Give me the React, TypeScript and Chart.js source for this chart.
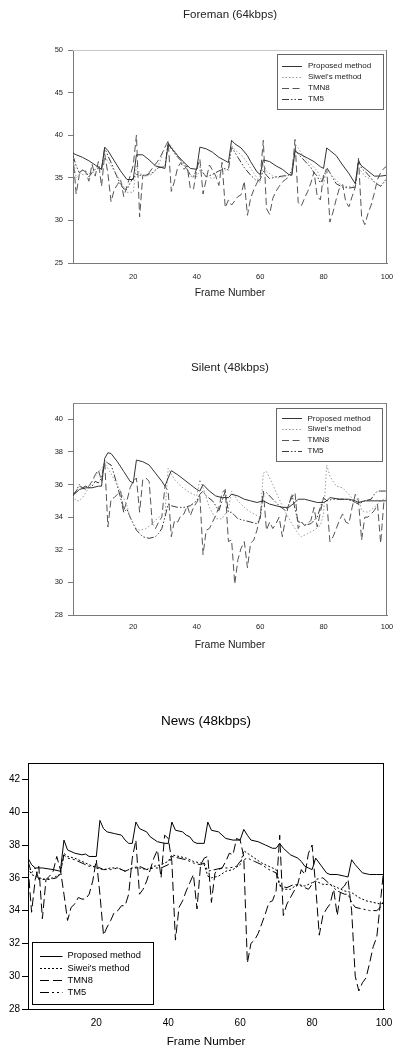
import React, { useEffect, useRef } from "react";
import { Chart, registerables } from "chart.js";

Chart.register(...registerables);

type Pt = [number, number];

const FONT = '"Liberation Sans", Arial, Helvetica, sans-serif';

const seriesLabels = ["Proposed method", "Siwei's method", "TMN8", "TM5"];
const xAxisTitle = "Frame Number";
const frameTicks = [20, 40, 60, 80, 100];
const frameMin = 1;
const frameMax = 100;

// ---------- Foreman (64kbps) ----------
const foremanTitle = "Foreman (64kbps)";
const foremanYTicks = [25, 30, 35, 40, 45, 50];
const foremanYMin = 25;
const foremanYMax = 50;

const foremanProposed: Pt[] = [
  [1, 37.9], [2, 37.7], [4, 37.4], [6, 37.0], [8, 36.5], [10, 36.0], [11, 38.6], [12, 38.2], [14, 37.0], [16, 35.8],
  [18, 34.8], [20, 34.8], [21, 37.7], [23, 37.7], [25, 37.1], [27, 36.4], [29, 36.2], [30, 36.1], [31, 39.0], [32, 38.5],
  [34, 37.6], [36, 36.8], [38, 36.1], [40, 36.0], [41, 38.6], [43, 38.4], [45, 38.0], [47, 37.4], [49, 37.0], [50, 36.8],
  [51, 39.4], [52, 39.0], [54, 38.5], [56, 37.6], [57, 36.9], [59, 35.7], [60, 35.4], [61, 37.1], [63, 36.9], [65, 36.4],
  [67, 36.0], [69, 35.4], [70, 35.3], [71, 38.1], [72, 37.9], [75, 37.3], [77, 36.9], [79, 36.3], [80, 36.1], [81, 38.5],
  [82, 38.2], [84, 37.6], [86, 36.5], [88, 35.5], [90, 34.3], [91, 36.9], [92, 36.4], [94, 35.8], [96, 35.2], [98, 35.2],
  [100, 35.3],
];
const foremanSiwei: Pt[] = [
  [1, 37.4], [2, 35.0], [3, 35.4], [5, 35.4], [7, 35.6], [9, 35.8], [10, 35.8], [11, 37.5], [12, 37.0], [14, 35.8],
  [16, 34.6], [18, 33.3], [20, 33.3], [21, 36.4], [22, 35.5], [24, 35.2], [26, 35.4], [28, 36.5], [30, 38.6], [31, 39.2],
  [32, 38.7], [34, 37.6], [36, 36.4], [38, 35.4], [40, 35.1], [41, 35.9], [43, 35.2], [45, 34.9], [47, 35.3], [49, 35.9],
  [50, 36.0], [51, 38.8], [52, 38.3], [54, 37.7], [56, 36.8], [57, 36.1], [59, 35.0], [60, 34.4], [61, 36.6], [62, 35.8],
  [64, 35.2], [66, 35.0], [68, 35.2], [70, 35.5], [71, 39.0], [72, 38.5], [74, 37.3], [76, 36.6], [78, 35.8], [80, 34.2],
  [81, 36.0], [83, 35.1], [85, 34.3], [87, 34.0], [89, 34.0], [90, 34.1], [91, 36.2], [93, 35.2], [95, 34.8], [97, 34.2],
  [98, 34.1], [100, 35.0],
];
const foremanTMN8: Pt[] = [
  [1, 37.6], [2, 33.1], [3, 35.4], [4, 35.9], [5, 35.7], [6, 34.6], [7, 36.6], [8, 35.2], [9, 36.9], [10, 34.0],
  [11, 37.8], [12, 35.5], [13, 32.2], [14, 33.6], [15, 34.2], [16, 34.8], [17, 32.8], [18, 34.0], [19, 35.2], [20, 36.5],
  [21, 40.0], [22, 30.4], [23, 35.3], [24, 35.2], [25, 35.6], [26, 36.1], [27, 36.6], [28, 37.1], [29, 37.8], [30, 38.6],
  [31, 39.3], [32, 33.4], [33, 34.6], [34, 36.2], [35, 36.8], [36, 36.0], [37, 36.4], [38, 33.7], [39, 33.7], [40, 36.0],
  [41, 37.2], [42, 33.1], [43, 34.8], [44, 36.5], [45, 35.9], [46, 35.2], [47, 34.1], [48, 36.8], [49, 31.5], [50, 32.4],
  [51, 31.8], [52, 32.3], [53, 32.8], [54, 33.0], [55, 34.6], [56, 30.6], [57, 32.6], [58, 33.6], [59, 34.4], [60, 35.0],
  [61, 39.4], [62, 31.4], [63, 30.7], [64, 32.6], [65, 33.4], [66, 34.0], [67, 34.5], [68, 34.8], [69, 35.1], [70, 35.4],
  [71, 39.5], [72, 32.1], [73, 31.7], [74, 32.6], [75, 33.4], [76, 34.4], [77, 35.7], [78, 32.8], [79, 32.4], [80, 35.4],
  [81, 36.0], [82, 29.8], [83, 31.0], [84, 32.5], [85, 33.8], [86, 34.2], [87, 32.2], [88, 31.6], [89, 32.8], [90, 33.9],
  [91, 37.3], [92, 30.4], [93, 29.5], [94, 30.8], [95, 31.8], [96, 33.2], [97, 34.8], [98, 35.6], [99, 36.1], [100, 36.4],
];
const foremanTM5: Pt[] = [
  [1, 37.6], [2, 36.4], [3, 35.6], [4, 35.9], [5, 35.8], [6, 35.1], [7, 35.6], [8, 36.0], [9, 36.1], [10, 36.0],
  [11, 38.5], [12, 37.6], [13, 36.8], [14, 35.9], [15, 35.0], [16, 34.2], [17, 33.7], [18, 33.6], [19, 34.4], [20, 35.0],
  [21, 35.4], [22, 35.3], [24, 35.3], [26, 35.6], [28, 36.2], [30, 36.3], [31, 39.1], [32, 38.4], [34, 37.4], [36, 36.7],
  [37, 36.0], [38, 35.3], [39, 35.0], [40, 36.1], [41, 36.3], [42, 35.6], [43, 35.1], [45, 35.4], [47, 35.8], [49, 36.1],
  [50, 35.9], [51, 38.6], [53, 37.4], [55, 36.2], [57, 35.3], [59, 34.6], [60, 34.8], [61, 35.8], [62, 35.3], [63, 34.9],
  [65, 35.1], [67, 35.2], [69, 35.3], [70, 35.8], [71, 38.3], [72, 37.8], [74, 37.0], [76, 36.2], [77, 35.6], [78, 35.2],
  [79, 34.4], [80, 35.0], [81, 36.2], [82, 35.6], [84, 34.3], [86, 33.9], [88, 33.8], [90, 33.9], [91, 37.1], [92, 36.1],
  [94, 35.4], [96, 34.5], [98, 34.0], [100, 34.9],
];

// ---------- Silent (48kbps) ----------
const silentTitle = "Silent (48kbps)";
const silentYTicks = [28, 30, 32, 34, 36, 38, 40];
const silentYMin = 28;
const silentYMax = 41;

const silentProposed: Pt[] = [
  [1, 35.4], [2, 35.5], [3, 35.7], [5, 35.8], [7, 35.8], [9, 35.9], [10, 35.9], [11, 37.6], [12, 37.95], [13, 37.9],
  [15, 37.4], [17, 36.8], [19, 36.2], [20, 36.1], [21, 37.5], [23, 37.4], [25, 37.2], [27, 36.7], [29, 36.2], [30, 35.9],
  [31, 36.4], [32, 36.85], [34, 36.6], [36, 36.3], [38, 36.0], [40, 35.7], [41, 35.6], [42, 36.0], [44, 35.6], [46, 35.3],
  [48, 35.2], [50, 35.2], [51, 35.4], [53, 35.3], [55, 35.1], [57, 35.0], [59, 34.9], [61, 35.0], [63, 34.8], [65, 34.7],
  [67, 34.6], [69, 34.6], [71, 34.9], [72, 35.1], [74, 35.1], [76, 35.0], [78, 34.9], [80, 34.9], [81, 35.0], [82, 35.2],
  [85, 35.1], [88, 35.1], [90, 35.0], [91, 34.9], [93, 35.0], [96, 35.0], [100, 35.0],
];
const silentSiwei: Pt[] = [
  [1, 35.3], [2, 35.0], [3, 35.0], [4, 35.2], [6, 35.8], [8, 36.5], [10, 37.0], [11, 37.3], [12, 37.0], [14, 36.3],
  [16, 35.6], [18, 34.7], [19, 34.0], [20, 33.6], [21, 33.3], [22, 33.2], [24, 33.3], [26, 33.6], [28, 34.0], [30, 34.2],
  [31, 37.0], [33, 36.3], [35, 35.9], [37, 35.6], [39, 35.4], [40, 35.3], [41, 36.3], [42, 35.8], [44, 34.6], [46, 33.9],
  [48, 33.9], [50, 34.5], [51, 35.6], [53, 35.0], [55, 34.6], [57, 34.3], [59, 34.1], [60, 34.0], [61, 36.7], [62, 36.8],
  [64, 36.0], [66, 35.1], [68, 34.3], [70, 33.6], [72, 33.0], [73, 32.8], [75, 33.0], [77, 33.2], [79, 33.5], [80, 34.2],
  [81, 37.2], [82, 36.5], [84, 35.9], [86, 35.8], [88, 35.4], [90, 34.9], [91, 35.2], [92, 34.4], [94, 34.3], [96, 34.6],
  [98, 35.0], [100, 35.2],
];
const silentTMN8: Pt[] = [
  [1, 35.4], [2, 35.6], [3, 35.9], [4, 35.8], [5, 35.7], [6, 35.9], [7, 36.2], [8, 36.6], [9, 36.9], [10, 36.2],
  [11, 37.4], [12, 33.4], [13, 35.1], [14, 35.2], [15, 35.4], [16, 35.6], [17, 34.4], [18, 35.0], [19, 35.8], [20, 36.2],
  [21, 36.4], [22, 34.3], [23, 36.3], [24, 36.4], [25, 36.2], [26, 33.6], [27, 33.3], [28, 33.7], [29, 34.0], [30, 35.9],
  [31, 35.6], [32, 32.8], [33, 33.8], [34, 33.7], [35, 34.1], [36, 34.2], [37, 34.7], [38, 34.1], [39, 34.6], [40, 34.9],
  [41, 35.3], [42, 31.7], [43, 33.2], [44, 33.3], [45, 33.7], [46, 34.1], [47, 34.6], [48, 35.5], [49, 35.7], [50, 32.5],
  [51, 32.6], [52, 29.9], [53, 31.4], [54, 32.1], [55, 32.5], [56, 30.9], [57, 32.4], [58, 32.6], [59, 33.2], [60, 34.1],
  [61, 35.6], [62, 33.2], [63, 33.7], [64, 33.3], [65, 33.6], [66, 34.0], [67, 32.8], [68, 33.9], [69, 34.8], [70, 35.2],
  [71, 35.5], [72, 33.3], [73, 33.7], [74, 33.5], [75, 33.6], [76, 33.8], [77, 34.6], [78, 33.4], [79, 34.3], [80, 35.2],
  [81, 35.0], [82, 32.5], [83, 32.8], [84, 33.3], [85, 33.8], [86, 34.2], [87, 33.7], [88, 33.6], [89, 34.6], [90, 35.4],
  [91, 35.0], [92, 32.6], [93, 34.0], [94, 34.0], [95, 34.2], [96, 34.4], [97, 34.8], [98, 32.4], [99, 34.9], [100, 35.1],
];
const silentTM5: Pt[] = [
  [1, 35.3], [2, 35.6], [3, 36.0], [4, 35.8], [5, 35.9], [6, 35.8], [7, 35.9], [8, 36.2], [9, 36.1], [10, 36.4],
  [11, 37.5], [12, 37.3], [13, 37.2], [14, 36.6], [15, 35.9], [16, 35.2], [17, 34.3], [18, 34.5], [19, 34.0], [20, 33.6],
  [21, 33.2], [22, 33.0], [23, 32.8], [25, 32.7], [27, 32.8], [28, 33.0], [29, 33.3], [30, 34.0], [31, 34.8], [32, 34.7],
  [34, 34.6], [36, 34.6], [38, 34.7], [40, 35.0], [41, 35.4], [42, 35.6], [43, 35.3], [45, 35.0], [47, 34.4], [48, 35.0],
  [49, 35.6], [50, 34.3], [51, 34.3], [52, 34.1], [53, 33.9], [55, 33.8], [57, 33.7], [59, 33.6], [60, 33.9], [61, 35.4],
  [62, 35.5], [64, 35.1], [66, 34.7], [68, 34.4], [69, 34.7], [70, 35.4], [71, 34.5], [72, 33.7], [73, 33.7], [74, 33.5],
  [76, 33.6], [77, 33.8], [78, 34.0], [79, 34.6], [80, 35.2], [81, 35.0], [83, 35.1], [85, 35.1], [87, 35.1], [89, 35.0],
  [90, 34.9], [91, 34.8], [93, 35.0], [95, 35.1], [96, 35.4], [97, 35.6], [98, 35.6], [100, 35.6],
];

// ---------- News (48kbps) ----------
const newsTitle = "News (48kbps)";
const newsYTicks = [28, 30, 32, 34, 36, 38, 40, 42];
const newsYMin = 28;
const newsYMax = 43;

const newsProposed: Pt[] = [
  [1, 37.2], [2, 36.8], [3, 36.6], [5, 36.6], [8, 36.5], [10, 36.4], [11, 38.3], [12, 37.7], [14, 37.5], [16, 37.4],
  [17, 37.45], [18, 37.3], [20, 37.3], [21, 39.5], [22, 39.0], [23, 38.8], [25, 38.7], [27, 38.6], [28, 38.3], [29, 38.1],
  [30, 38.1], [31, 39.4], [32, 39.0], [34, 38.8], [35, 38.5], [37, 38.2], [39, 38.1], [40, 38.1], [41, 39.4], [42, 38.9],
  [44, 38.8], [45, 38.6], [46, 38.5], [47, 38.2], [48, 38.1], [50, 38.1], [51, 39.4], [52, 38.9], [54, 38.8], [56, 38.4],
  [58, 38.3], [60, 38.3], [61, 38.95], [62, 38.6], [63, 38.3], [65, 38.2], [67, 38.0], [69, 37.8], [70, 37.8], [71, 38.1],
  [72, 37.8], [74, 37.4], [76, 37.2], [77, 37.0], [78, 36.7], [79, 36.6], [80, 36.5], [81, 37.2], [82, 36.9], [83, 36.6],
  [84, 36.3], [85, 36.2], [87, 36.2], [89, 36.1], [90, 36.05], [91, 37.1], [92, 36.8], [94, 36.3], [96, 36.2], [98, 36.2],
  [100, 36.2],
];
const newsSiwei: Pt[] = [
  [1, 36.6], [2, 36.2], [4, 36.0], [6, 35.9], [8, 36.0], [10, 36.2], [11, 37.5], [12, 37.3], [14, 37.2], [16, 37.0],
  [18, 36.8], [20, 36.6], [22, 36.5], [24, 36.6], [26, 36.6], [28, 36.4], [30, 36.6], [32, 36.6], [34, 36.5], [36, 36.7],
  [38, 36.8], [40, 37.0], [41, 37.4], [43, 37.3], [45, 37.2], [47, 37.0], [49, 36.9], [50, 36.8], [51, 36.1], [52, 36.0],
  [54, 36.1], [56, 36.4], [58, 36.5], [60, 36.8], [61, 37.65], [62, 37.5], [64, 37.2], [66, 36.9], [68, 36.7], [70, 36.5],
  [71, 35.6], [72, 35.3], [74, 35.3], [76, 35.6], [78, 35.5], [80, 35.7], [81, 35.8], [83, 35.6], [85, 35.6], [87, 35.4],
  [89, 35.2], [91, 35.1], [93, 34.8], [95, 34.6], [97, 34.5], [99, 34.4], [100, 34.5],
];
const newsTMN8: Pt[] = [
  [1, 36.7], [2, 33.9], [3, 35.9], [4, 36.7], [5, 33.5], [6, 35.9], [7, 36.1], [8, 36.4], [9, 37.3], [10, 36.5],
  [11, 35.0], [12, 33.4], [13, 34.2], [14, 34.4], [15, 34.8], [16, 34.7], [17, 34.7], [18, 35.0], [19, 35.8], [20, 37.1],
  [21, 35.0], [22, 32.5], [23, 33.0], [24, 33.4], [25, 33.9], [26, 34.0], [27, 34.3], [28, 34.3], [29, 35.0], [30, 37.2],
  [31, 38.3], [32, 35.0], [33, 35.3], [34, 35.8], [35, 36.5], [36, 37.2], [37, 37.7], [38, 36.0], [39, 38.6], [40, 38.4],
  [41, 37.0], [42, 32.2], [43, 34.2], [44, 34.6], [45, 35.2], [46, 35.7], [47, 36.2], [48, 34.1], [49, 36.8], [50, 37.2],
  [51, 37.3], [52, 34.5], [53, 36.3], [54, 36.5], [55, 36.6], [56, 37.0], [57, 37.5], [58, 37.4], [59, 38.4], [60, 38.3],
  [61, 37.3], [62, 30.8], [63, 32.0], [64, 32.2], [65, 32.6], [66, 33.2], [67, 33.8], [68, 34.5], [69, 34.6], [70, 35.2],
  [71, 38.6], [72, 33.7], [73, 34.4], [74, 34.8], [75, 35.2], [76, 35.6], [77, 36.5], [78, 36.2], [79, 37.5], [80, 38.0],
  [81, 35.5], [82, 32.5], [83, 33.7], [84, 34.1], [85, 34.4], [86, 35.3], [87, 33.7], [88, 35.3], [89, 35.5], [90, 35.9],
  [91, 34.0], [92, 30.0], [93, 29.1], [94, 29.6], [95, 29.9], [96, 30.8], [97, 31.8], [98, 32.4], [99, 34.5], [100, 36.7],
];
const newsTM5: Pt[] = [
  [1, 37.0], [2, 36.3], [3, 36.6], [4, 35.9], [5, 35.9], [7, 35.9], [9, 36.0], [10, 36.3], [11, 37.4], [12, 37.2],
  [14, 37.1], [16, 36.9], [18, 36.7], [20, 36.7], [22, 36.5], [24, 36.5], [26, 36.6], [28, 36.4], [30, 36.6], [32, 36.7],
  [34, 36.5], [36, 36.6], [38, 36.6], [40, 36.8], [41, 37.3], [43, 37.2], [45, 37.1], [47, 36.9], [49, 36.8], [50, 36.9],
  [51, 36.4], [53, 36.5], [55, 36.6], [57, 36.6], [59, 36.7], [60, 37.0], [62, 37.2], [64, 37.0], [66, 36.8], [68, 36.5],
  [70, 36.3], [71, 35.5], [73, 35.4], [75, 35.6], [77, 35.5], [79, 35.3], [80, 35.6], [81, 35.9], [83, 36.0], [85, 35.6],
  [87, 35.2], [89, 35.0], [90, 35.0], [91, 34.5], [92, 34.2], [94, 34.1], [96, 34.0], [98, 34.0], [99, 34.2], [100, 34.6],
];

// ---------- styles ----------
type LineStyle = { color: string; dash: number[] };

const grayStyles: LineStyle[] = [
  { color: "#333333", dash: [] },
  { color: "#9c9c9c", dash: [1.5, 2] },
  { color: "#555555", dash: [7, 3.5] },
  { color: "#3a3a3a", dash: [7, 2, 1.5, 2, 1.5, 2] },
];
const blackStyles: LineStyle[] = [
  { color: "#000000", dash: [] },
  { color: "#000000", dash: [2, 2] },
  { color: "#000000", dash: [9, 4] },
  { color: "#000000", dash: [9, 3, 2, 3, 2, 3] },
];

type Panel = {
  key: string;
  top: number;
  height: number;
  width: number;
  area: { left: number; top: number; right: number; bottom: number };
  title: string;
  titleY: number;
  titleSize: number;
  axisTitleY: number;
  axisTitleSize: number;
  tickSize: number;
  xTickPad: number;
  yTickLen: number;
  yTickPad: number;
  yMin: number;
  yMax: number;
  yTicks: number[];
  series: Pt[][];
  styles: LineStyle[];
  frameColor: string;
  topColor: string;
  textColor: string;
  legend: { x: number; y: number; w: number; h: number; row0: number; dy: number; sx1: number; sx2: number; tx: number; size: number; color: string };
};

const panels: Panel[] = [
  {
    key: "foreman",
    top: 0,
    height: 310,
    width: 394,
    area: { left: 73, top: 50, right: 387, bottom: 263 },
    title: foremanTitle,
    titleY: 15,
    titleSize: 11.5,
    axisTitleY: 293,
    axisTitleSize: 10.5,
    tickSize: 7.5,
    xTickPad: 9,
    yTickLen: 5,
    yTickPad: 5,
    yMin: foremanYMin,
    yMax: foremanYMax,
    yTicks: foremanYTicks,
    series: [foremanProposed, foremanSiwei, foremanTMN8, foremanTM5],
    styles: grayStyles,
    frameColor: "#7a7a7a",
    topColor: "#c8c8c8",
    textColor: "#222222",
    legend: { x: 277, y: 54, w: 106, h: 55, row0: 66, dy: 11, sx1: 282, sx2: 302, tx: 308, size: 8, color: "#666666" },
  },
  {
    key: "silent",
    top: 330,
    height: 330,
    width: 394,
    area: { left: 73, top: 73, right: 387, bottom: 285 },
    title: silentTitle,
    titleY: 38,
    titleSize: 11.7,
    axisTitleY: 315,
    axisTitleSize: 10.5,
    tickSize: 7.5,
    xTickPad: 7,
    yTickLen: 5,
    yTickPad: 5,
    yMin: silentYMin,
    yMax: silentYMax,
    yTicks: silentYTicks,
    series: [silentProposed, silentSiwei, silentTMN8, silentTM5],
    styles: grayStyles,
    frameColor: "#7a7a7a",
    topColor: "#8a8a8a",
    textColor: "#222222",
    legend: { x: 276, y: 78, w: 106, h: 53, row0: 88.3, dy: 10.8, sx1: 282, sx2: 302, tx: 307.5, size: 8, color: "#666666" },
  },
  {
    key: "news",
    top: 680,
    height: 369,
    width: 394,
    area: { left: 28, top: 83, right: 384, bottom: 329 },
    title: newsTitle,
    titleY: 41,
    titleSize: 13.5,
    axisTitleY: 362,
    axisTitleSize: 11.7,
    tickSize: 10,
    xTickPad: 8,
    yTickLen: 6,
    yTickPad: 2,
    yMin: newsYMin,
    yMax: newsYMax,
    yTicks: newsYTicks,
    series: [newsProposed, newsSiwei, newsTMN8, newsTM5],
    styles: blackStyles,
    frameColor: "#000000",
    topColor: "#000000",
    textColor: "#000000",
    legend: { x: 32, y: 262, w: 121, h: 62, row0: 275.8, dy: 12.2, sx1: 40, sx2: 62.5, tx: 67.5, size: 9.3, color: "#000000" },
  },
];

function ChartPanel({ panel }: { panel: Panel }) {
  const ref = useRef<HTMLCanvasElement | null>(null);

  useEffect(() => {
    const p = panel;
    const canvas = ref.current;
    if (!canvas) return;

    const decor = {
      id: "decor-" + p.key,
      afterDatasetsDraw(chart: any) {
        const ctx = chart.ctx as CanvasRenderingContext2D;
        const a = chart.chartArea;
        ctx.save();
        ctx.lineWidth = 1;
        ctx.setLineDash([]);
        ctx.strokeStyle = p.topColor;
        ctx.beginPath();
        ctx.moveTo(a.left, Math.round(a.top) + 0.5);
        ctx.lineTo(a.right, Math.round(a.top) + 0.5);
        ctx.stroke();
        ctx.strokeStyle = p.frameColor;
        ctx.beginPath();
        ctx.moveTo(Math.round(a.right) - 0.5, a.top);
        ctx.lineTo(Math.round(a.right) - 0.5, a.bottom);
        ctx.stroke();
        ctx.restore();
      },
      afterDraw(chart: any) {
        const ctx = chart.ctx as CanvasRenderingContext2D;
        const a = chart.chartArea;
        const cx = (a.left + a.right) / 2;
        ctx.save();
        ctx.fillStyle = p.textColor;
        ctx.textAlign = "center";
        ctx.textBaseline = "middle";
        ctx.font = `${p.titleSize}px ${FONT}`;
        ctx.fillText(p.title, cx, p.titleY);
        ctx.font = `${p.axisTitleSize}px ${FONT}`;
        ctx.fillText(xAxisTitle, cx, p.axisTitleY);

        // legend box
        const L = p.legend;
        ctx.fillStyle = "#ffffff";
        ctx.fillRect(L.x, L.y, L.w, L.h);
        ctx.strokeStyle = L.color;
        ctx.lineWidth = 1;
        ctx.setLineDash([]);
        ctx.strokeRect(L.x + 0.5, L.y + 0.5, L.w, L.h);
        ctx.font = `${L.size}px ${FONT}`;
        ctx.textAlign = "left";
        ctx.textBaseline = "middle";
        seriesLabels.forEach((label, i) => {
          const y = L.row0 + i * L.dy;
          const st = p.styles[i];
          ctx.strokeStyle = st.color;
          ctx.setLineDash(st.dash);
          ctx.beginPath();
          ctx.moveTo(L.sx1, Math.round(y) + 0.5);
          ctx.lineTo(L.sx2, Math.round(y) + 0.5);
          ctx.stroke();
          ctx.setLineDash([]);
          ctx.fillStyle = p.textColor;
          ctx.fillText(label, L.tx, y);
        });
        ctx.restore();
      },
    };

    const chart = new Chart(canvas, {
      type: "line",
      data: {
        datasets: p.series.map((s, i) => ({
          label: seriesLabels[i],
          data: s.map(([x, y]) => ({ x, y })),
          borderColor: p.styles[i].color,
          borderWidth: 1,
          borderDash: p.styles[i].dash,
          pointRadius: 0,
          pointHoverRadius: 0,
          fill: false,
          tension: 0,
        })),
      },
      options: {
        responsive: false,
        maintainAspectRatio: false,
        animation: false,
        events: [],
        layout: {
          padding: { left: 0, top: p.area.top, right: p.width - p.area.right, bottom: 0 },
        },
        plugins: {
          legend: { display: false },
          title: { display: false },
          tooltip: { enabled: false },
        },
        scales: {
          x: {
            type: "linear",
            min: frameMin,
            max: frameMax,
            afterBuildTicks: (scale: any) => {
              scale.ticks = frameTicks.map((v) => ({ value: v }));
            },
            afterFit: (scale: any) => {
              scale.height = p.height - p.area.bottom;
              scale.paddingLeft = 0;
              scale.paddingRight = 0;
            },
            grid: { display: false, drawTicks: false },
            border: { display: true, color: p.frameColor, width: 1 },
            ticks: {
              autoSkip: false,
              maxRotation: 0,
              padding: p.xTickPad,
              color: p.textColor,
              font: { family: FONT, size: p.tickSize },
            },
          },
          y: {
            type: "linear",
            min: p.yMin,
            max: p.yMax,
            afterBuildTicks: (scale: any) => {
              scale.ticks = p.yTicks.map((v) => ({ value: v }));
            },
            afterFit: (scale: any) => {
              scale.width = p.area.left;
              scale.paddingTop = 0;
              scale.paddingBottom = 0;
            },
            grid: {
              display: true,
              drawOnChartArea: false,
              drawTicks: true,
              tickLength: p.yTickLen,
              color: p.frameColor,
            },
            border: { display: true, color: p.frameColor, width: 1 },
            ticks: {
              padding: p.yTickPad,
              color: p.textColor,
              font: { family: FONT, size: p.tickSize },
            },
          },
        },
      } as any,
      plugins: [decor],
    });

    return () => {
      chart.destroy();
    };
  }, [panel]);

  return (
    <div style={{ position: "absolute", left: 0, top: panel.top, width: panel.width, height: panel.height }}>
      <canvas ref={ref} width={panel.width} height={panel.height} style={{ display: "block" }} />
    </div>
  );
}

export default function App() {
  return (
    <div
      style={{
        position: "fixed",
        left: 0,
        top: 0,
        width: 394,
        height: 1049,
        background: "#ffffff",
        overflow: "hidden",
      }}
    >
      {panels.map((p) => (
        <ChartPanel key={p.key} panel={p} />
      ))}
    </div>
  );
}
